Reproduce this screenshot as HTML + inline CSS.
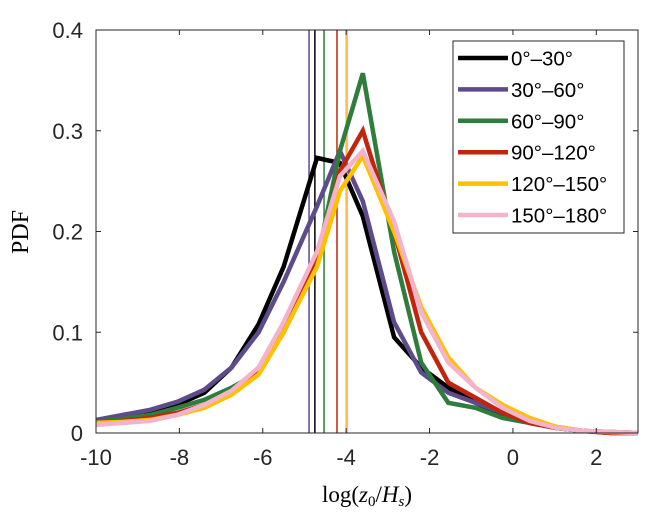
<!DOCTYPE html>
<html><head><meta charset="utf-8"><style>
body{margin:0;background:#fff}
svg text{font-family:"Liberation Sans",sans-serif}
</style></head><body>
<svg width="656" height="525" xmlns="http://www.w3.org/2000/svg">
<g id="marks"></g>
<g id="axes"></g>
<text x="28" y="232" transform="rotate(-90 28 232)" text-anchor="middle" font-size="24" style="font-family:'Liberation Serif',serif">PDF</text>
<text x="367" y="502" text-anchor="middle" font-size="23" style="font-family:'Liberation Serif',serif">log(<tspan font-style="italic">z</tspan><tspan font-size="15" dy="4">0</tspan><tspan dy="-4">/</tspan><tspan font-style="italic">H</tspan><tspan font-size="15" dy="4" font-style="italic">s</tspan><tspan dy="-4">)</tspan></text>
<g id="legend"></g>
</svg>
<script>
const xGrid=[-10,-9.35,-8.7,-8.05,-7.4,-6.75,-6.1,-5.5,-4.7,-4.15,-3.6,-2.85,-2.2,-1.55,-0.9,-0.25,0.4,1.05,1.7,2.35,3];
const seriesNames=["0°–30°","30°–60°","60°–90°","90°–120°","120°–150°","150°–180°"];
const seriesColors=["#000000","#5e4b8b","#2e7d3c","#c0260e","#ffc000","#f4b3cd"];
const s0=[0.012,0.016,0.02,0.028,0.04,0.065,0.108,0.165,0.273,0.268,0.215,0.095,0.065,0.045,0.03,0.018,0.01,0.005,0.002,0.001,0];
const s1=[0.013,0.018,0.023,0.031,0.043,0.065,0.1,0.15,0.225,0.28,0.23,0.11,0.06,0.04,0.03,0.02,0.012,0.006,0.002,0.001,0];
const s2=[0.011,0.014,0.018,0.025,0.033,0.045,0.06,0.1,0.17,0.28,0.357,0.18,0.07,0.03,0.025,0.015,0.01,0.005,0.002,0,0];
const s3=[0.01,0.012,0.015,0.02,0.028,0.04,0.062,0.1,0.17,0.26,0.3,0.2,0.1,0.05,0.035,0.02,0.01,0.005,0.002,0,0];
const s4=[0.01,0.011,0.013,0.018,0.025,0.038,0.058,0.1,0.165,0.24,0.275,0.2,0.125,0.075,0.045,0.028,0.015,0.006,0.002,0.001,0];
const s5=[0.008,0.01,0.012,0.018,0.028,0.042,0.065,0.11,0.18,0.255,0.28,0.21,0.12,0.07,0.045,0.025,0.012,0.005,0.002,0.001,0];
const meanLines=[-4.75,-4.89,-4.53,-4.22,-4.0,-3.97];
const xTicks=[-10,-8,-6,-4,-2,0,2];
const yTicks=[0,0.1,0.2,0.3,0.4];
const yTickLabels=["0","0.1","0.2","0.3","0.4"];
const allSeries=[s0,s1,s2,s3,s4,s5];
const NS="http://www.w3.org/2000/svg";
const L=96,R=638,T=30,B=433;
const sx=v=>L+(v+10)/13*(R-L);
const sy=v=>B-v/0.4*(B-T);
function mk(tag,attrs,parent){const e=document.createElementNS(NS,tag);for(const k in attrs)e.setAttribute(k,attrs[k]);parent.appendChild(e);return e;}
const marks=document.getElementById('marks'),axes=document.getElementById('axes'),leg=document.getElementById('legend');
meanLines.forEach((m,i)=>{const l=mk('line',{x1:sx(m),x2:sx(m),y1:T,y2:B,stroke:seriesColors[i],'stroke-width':1.5},marks);

});
allSeries.forEach((s,i)=>{const p=mk('polyline',{points:s.map((v,j)=>sx(xGrid[j])+','+sy(v)).join(' '),fill:'none',stroke:seriesColors[i],'stroke-width':4.5,'stroke-linejoin':'miter'},marks);

});
const fr=mk('rect',{x:L,y:T,width:R-L,height:B-T,fill:'none',stroke:'#262626','stroke-width':1},axes);


xTicks.forEach(t=>{mk('line',{x1:sx(t),x2:sx(t),y1:B,y2:B-5,stroke:'#262626'},axes);mk('line',{x1:sx(t),x2:sx(t),y1:T,y2:T+5,stroke:'#262626'},axes);
const tx=mk('text',{x:sx(t),y:B+32,'text-anchor':'middle','font-size':22,fill:'#262626'},axes);tx.textContent=String(t);

});
yTicks.forEach((t,i)=>{mk('line',{x1:L,x2:L+5,y1:sy(t),y2:sy(t),stroke:'#262626'},axes);mk('line',{x1:R,x2:R-5,y1:sy(t),y2:sy(t),stroke:'#262626'},axes);
const tx=mk('text',{x:L-13,y:sy(t)+8,'text-anchor':'end','font-size':22,fill:'#262626'},axes);tx.textContent=yTickLabels[i];

});
const lb=mk('rect',{x:453,y:41,width:171,height:192,fill:'#fff',stroke:'#262626','stroke-width':1},leg);


seriesNames.forEach((n,i)=>{const y=58+i*31.4;
const g=mk('g',{},leg);


mk('line',{x1:458,x2:508,y1:y,y2:y,stroke:seriesColors[i],'stroke-width':4.5},g);
const t=mk('text',{x:511,y:y+7.5,'font-size':20.5,fill:'#000'},g);t.textContent=n;});
</script>
</body></html>
